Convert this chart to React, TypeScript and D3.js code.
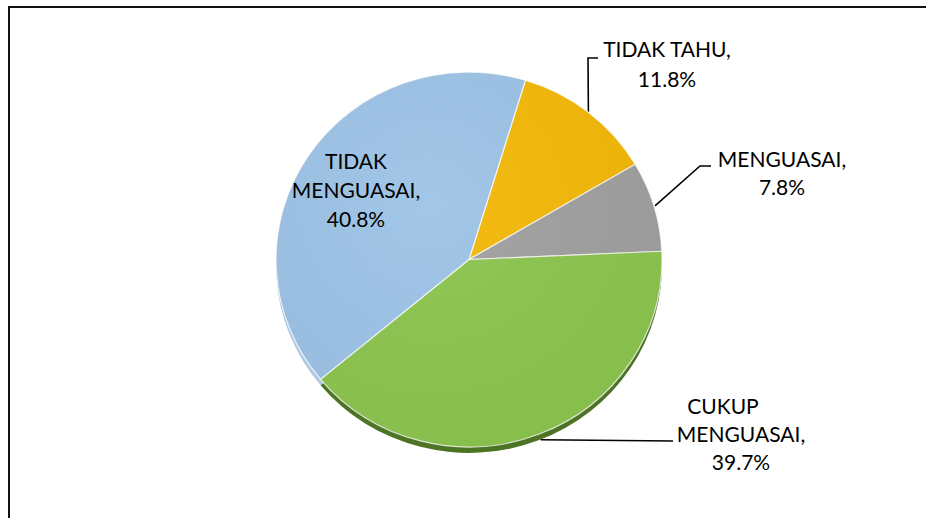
import React from "react";
import * as d3 from "d3";

const categories = ["TIDAK TAHU", "MENGUASAI", "CUKUP MENGUASAI", "TIDAK MENGUASAI"];
const values = [11.8, 7.8, 39.7, 40.8];
const labelLines = [
  ["TIDAK TAHU,", "11.8%"],
  ["MENGUASAI,", "7.8%"],
  ["CUKUP", "MENGUASAI,", "39.7%"],
  ["TIDAK", "MENGUASAI,", "40.8%"],
];

const colors = ["#F4B807", "#A0A0A0", "#8CC54E", "#9DC3E6"];
const sideColors = ["#9A7300", "#5E5E5E", "#4D7424", "#AFC9E2"];

const W = 926;
const H = 518;
const cx = 469;
const cy = 259.5;
const R = 193;
const yScale = 0.971;
const startDeg = 17;

// label layout: anchor x, first baseline y, line height, leader (elbow points)
const layout = [
  { x: 667, y: 57, lh: 30, elbow: [[588, 58], [598, 58]], rOff: 0 },
  { x: 782, y: 167, lh: 28, elbow: [[700, 166], [711, 166]], rOff: 1 },
  { x: 741, y: 414, lh: 28, elbow: [[673, 441]], rOff: 6, firstX: 723 },
  { x: 356, y: 169, lh: 29, elbow: null, rOff: 0 },
];

export default function App() {
  const pie = d3
    .pie<number>()
    .sort(null)
    .value((d) => d)
    .startAngle((startDeg * Math.PI) / 180)
    .endAngle((startDeg * Math.PI) / 180 + 2 * Math.PI);
  const arcs = pie(values);
  const arc = d3.arc<d3.PieArcDatum<number>>().innerRadius(0).outerRadius(R);

  const pt = (a: number, r: number) => [cx + Math.sin(a) * r, cy - Math.cos(a) * r * yScale];

  return (
    <svg
      width={W}
      height={H}
      style={{ position: "absolute", left: 0, top: 0, background: "#fff" }}
      fontFamily="Lato, 'Noto Sans', sans-serif"
    >
      <defs>
        <radialGradient id="shine" cx="0.4" cy="0.35" r="0.75">
          <stop offset="0" stopColor="#fff" stopOpacity={0.06} />
          <stop offset="1" stopColor="#000" stopOpacity={0.04} />
        </radialGradient>
      </defs>
      <rect x={9} y={7} width={W + 20} height={H + 20} fill="none" stroke="#111" strokeWidth={2} />
      {/* side / shadow */}
      <g transform={`translate(${cx},${cy + 6}) scale(1,${yScale})`}>
        {arcs.map((a, i) => (
          <path key={i} d={arc(a) || ""} fill={sideColors[i]} />
        ))}
      </g>
      {/* leaders */}
      {arcs.map((a, i) => {
        const L = layout[i];
        if (!L.elbow) return null;
        const mid = (a.startAngle + a.endAngle) / 2;
        const s = pt(mid, R + L.rOff);
        const pts = [s, ...L.elbow];
        return (
          <polyline
            key={"l" + i}
            points={pts.map((p) => p.join(",")).join(" ")}
            fill="none"
            stroke="#000"
            strokeWidth={1.6}
          />
        );
      })}
      {/* top face */}
      <g transform={`translate(${cx},${cy}) scale(1,${yScale})`}>
        {arcs.map((a, i) => (
          <path key={i} d={arc(a) || ""} fill={colors[i]} stroke="#fff" strokeOpacity={0.8} strokeWidth={1.2} />
        ))}
        <circle r={R} fill="url(#shine)" />
      </g>
      {/* labels */}
      {arcs.map((a, i) => {
        const L = layout[i];
        return (
          <text key={"t" + i} fontSize={21} fill="#000" textAnchor="middle">
            {labelLines[i].map((line, j) => (
              <tspan key={j} x={j === 0 && L.firstX ? L.firstX : L.x} y={L.y + j * L.lh}>
                {line}
              </tspan>
            ))}
          </text>
        );
      })}
    </svg>
  );
}
